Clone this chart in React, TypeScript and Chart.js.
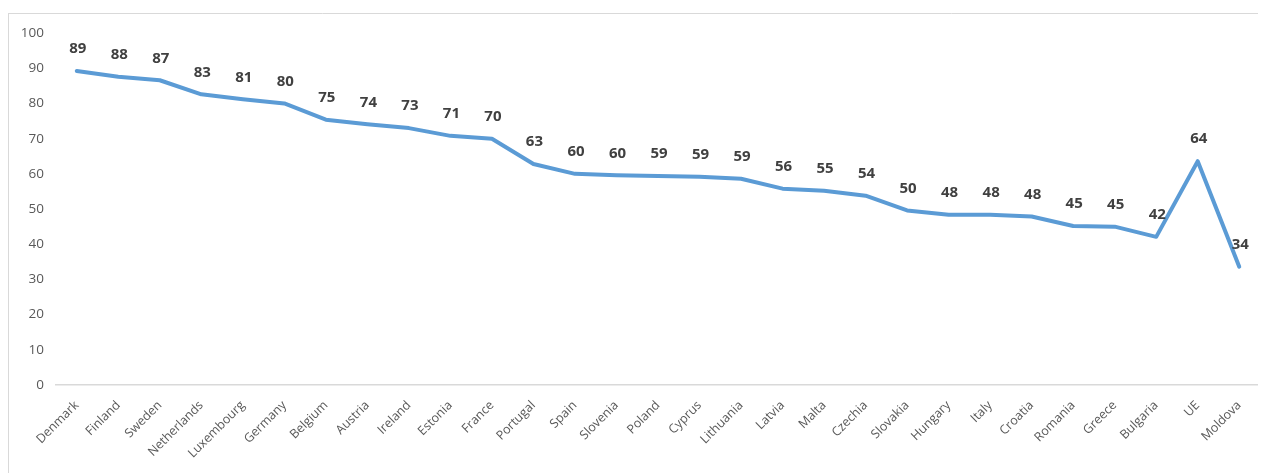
import React, { useEffect, useRef } from "react";
import { Chart, registerables } from "chart.js";

Chart.register(...registerables);

const categories: string[] = [
  "Denmark", "Finland", "Sweden", "Netherlands", "Luxembourg", "Germany", "Belgium",
  "Austria", "Ireland", "Estonia", "France", "Portugal", "Spain", "Slovenia", "Poland",
  "Cyprus", "Lithuania", "Latvia", "Malta", "Czechia", "Slovakia", "Hungary", "Italy",
  "Croatia", "Romania", "Greece", "Bulgaria", "UE", "Moldova",
];

const values: number[] = [
  89.2, 87.6, 86.6, 82.6, 81.2, 80.0, 75.4,
  74.1, 73.0, 70.8, 70.0, 62.8, 60.0, 59.6, 59.4,
  59.2, 58.6, 55.8, 55.2, 53.8, 49.6, 48.4, 48.4,
  47.9, 45.2, 45.0, 42.1, 63.6, 33.6,
];

const yTicks: number[] = [0, 10, 20, 30, 40, 50, 60, 70, 80, 90, 100];

const FONT = '"Open Sans", "Noto Sans", sans-serif';

const frameAndLabelsPlugin = {
  id: "frameAndLabels",
  beforeDraw(chart: any) {
    const ctx = chart.ctx;
    ctx.save();
    ctx.fillStyle = "#ffffff";
    ctx.fillRect(0, 0, chart.width, chart.height);
    ctx.strokeStyle = "#d9d9d9";
    ctx.lineWidth = 1;
    ctx.beginPath();
    ctx.moveTo(0, 0.5);
    ctx.lineTo(chart.width, 0.5);
    ctx.moveTo(0.5, 0);
    ctx.lineTo(0.5, chart.height);
    ctx.stroke();
    ctx.restore();
  },
  afterDatasetsDraw(chart: any) {
    const ctx = chart.ctx;
    const meta = chart.getDatasetMeta(0);
    ctx.save();
    ctx.font = `bold 15px ${FONT}`;
    ctx.fillStyle = "#404040";
    ctx.textAlign = "center";
    ctx.textBaseline = "middle";
    meta.data.forEach((pt: any, i: number) => {
      ctx.fillText(String(Math.round(values[i])), pt.x + 1, pt.y - 22);
    });
    ctx.restore();
  },
};

export default function App() {
  const canvasRef = useRef<HTMLCanvasElement | null>(null);

  useEffect(() => {
    document.documentElement.style.overflow = "hidden";
    document.body.style.overflow = "hidden";
    const canvas = canvasRef.current;
    if (!canvas) return;
    const chart = new Chart(canvas, {
      type: "line",
      data: {
        labels: categories,
        datasets: [
          {
            data: values,
            borderColor: "#5B9BD5",
            borderWidth: 4,
            pointRadius: 0,
            pointHoverRadius: 0,
            tension: 0,
            fill: false,
            borderJoinStyle: "round",
            borderCapStyle: "round",
          },
        ],
      },
      options: {
        responsive: false,
        animation: false,
        devicePixelRatio: 1,
        layout: { padding: { left: 1, right: 6, top: 20, bottom: 0 } },
        plugins: {
          legend: { display: false },
          tooltip: { enabled: false },
          title: { display: false },
        },
        scales: {
          x: {
            offset: true,
            grid: { display: false, drawTicks: false },
            border: { display: true, color: "#d9d9d9", width: 1.5 },
            ticks: {
              autoSkip: false,
              minRotation: 45,
              maxRotation: 45,
              padding: 13,
              color: "#595959",
              font: { family: FONT, size: 12.5 },
            },
            afterFit(scale: any) {
              scale.height = 88;
            },
          },
          y: {
            min: 0,
            max: 100,
            grid: { display: false, drawTicks: false },
            border: { display: false },
            afterBuildTicks(scale: any) {
              scale.ticks = yTicks.map((v) => ({ value: v }));
            },
            ticks: {
              padding: 12,
              color: "#595959",
              font: { family: FONT, size: 13.5 },
            },
            afterFit(scale: any) {
              scale.width = 47;
            },
          },
        },
      },
      plugins: [frameAndLabelsPlugin],
    });
    return () => chart.destroy();
  }, []);

  return (
    <div style={{ paddingTop: 5 }}>
      <canvas ref={canvasRef} width={1258} height={460} style={{ display: "block" }} />
    </div>
  );
}
